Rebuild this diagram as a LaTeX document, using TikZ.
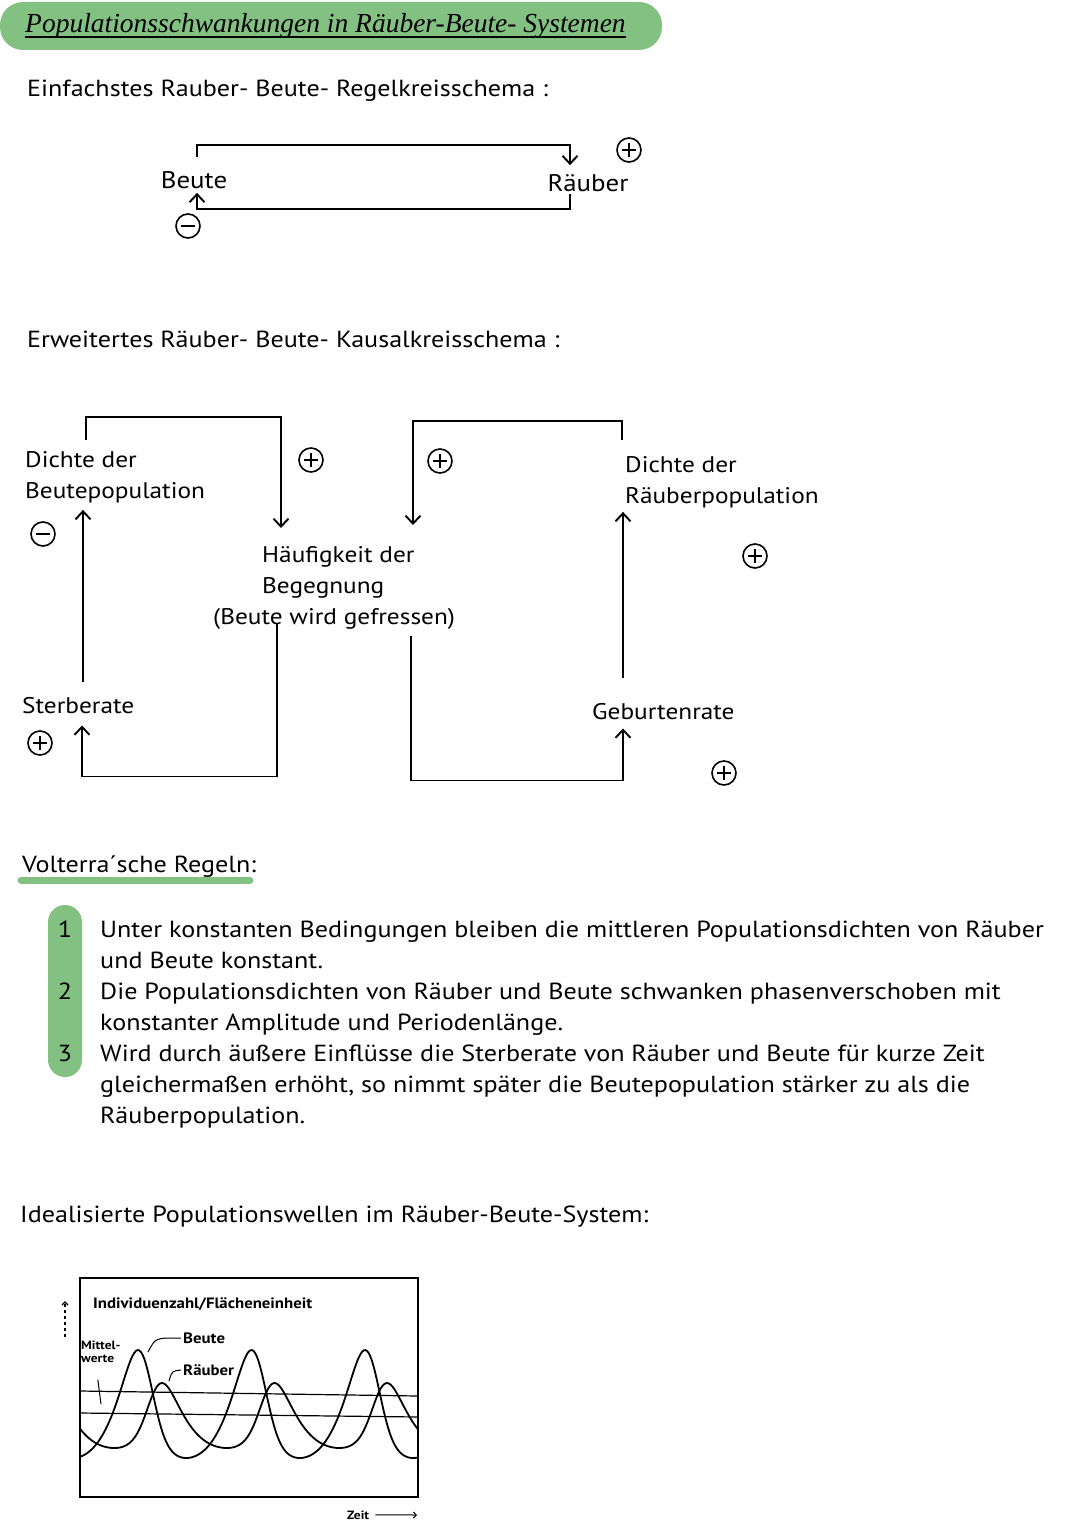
\documentclass[tikz,border=0pt]{standalone}
\usepackage{fontspec}
\setmainfont{PT Sans}[FakeStretch=1.12]
\newfontfamily\titlefont{Liberation Serif}
\usetikzlibrary{arrows.meta,calc}

\definecolor{markgreen}{RGB}{131,193,131}

\begin{document}
\begin{tikzpicture}[
  x=1pt, y=-1pt,
  font=\fontsize{22.6}{31}\selectfont,
  line/.style={draw=black, line width=1.7pt, -{Straight Barb[length=8pt,width=15pt,line width=1.9pt]}},
  lbl/.style={inner sep=0pt, align=left},
  head/.style={lbl, font=\fontsize{23.3}{28}\selectfont},
  rule/.style={lbl, font=\fontsize{23.3}{31}\selectfont},
  sign/.style={circle, draw, line width=1.6pt, minimum size=24pt, inner sep=0pt},
  plussign/.style={sign, path picture={
      \draw[line width=1.6pt] ([xshift=5pt]path picture bounding box.west) -- ([xshift=-5pt]path picture bounding box.east);
      \draw[line width=1.6pt] ([yshift=-5pt]path picture bounding box.north) -- ([yshift=5pt]path picture bounding box.south);}},
  minussign/.style={sign, path picture={
      \draw[line width=1.6pt] ([xshift=5pt]path picture bounding box.west) -- ([xshift=-5pt]path picture bounding box.east);}},
  small/.style={inner sep=0pt, font=\bfseries\fontsize{15}{16}\selectfont},
  wave/.style={line width=1.8pt},
  declare function={
    preyw(\t)=1458-108*(exp(1.2*cos(3.1718*(\t-138)+14.3*(1-cos(3.1718*(\t-138)))))-0.3012)/3.0189;
    predw(\t)=1448-65*(exp(1.2*cos(3.2*(\t-162)-14.3*(1-cos(3.2*(\t-162)))))-0.3012)/3.0189;}
]
\useasboundingbox (0,0) rectangle (1080,1522);

% title bar
\fill[markgreen, rounded corners=23pt] (0,2) rectangle (662,50);
\node[lbl, anchor=base west, font=\titlefont\itshape\fontsize{27.5}{30}\selectfont] (title) at (25,33) {Populationsschwankungen in Räuber-Beute- Systemen};
\draw[line width=1.4pt] ([yshift=-4pt]title.base west) -- ([yshift=-4pt]title.base east);

% simple loop
\node[head, anchor=base west] (simple) at (27,97) {Einfachstes Rauber- Beute- Regelkreisschema :};
\node[lbl, font=\fontsize{24}{28}\selectfont] (beute) at (194,180) {Beute};
\node[lbl, font=\fontsize{24}{28}\selectfont] (raeuber) at (588,183) {Räuber};
\draw[line] ([xshift=3pt,yshift=14pt]beute.north) -- ++(0,-12) -| ([xshift=-18pt,yshift=9pt]raeuber.north);
\draw[line] ([xshift=-18pt,yshift=-2pt]raeuber.south) -- ++(0,15) -| ([xshift=3pt,yshift=-4pt]beute.south);
\node[plussign] (plustop) at (629,150) {};
\node[minussign] (minustop) at (188,226) {};

% extended loop
\node[head, anchor=base west] (extended) at (27,347) {Erweitertes Räuber- Beute- Kausalkreisschema :};
\node[lbl, anchor=north west] (dbeute) at (25,451) {Dichte der\\Beutepopulation};
\node[lbl, anchor=base west] (sterbe) at (22,713) {Sterberate};
\node[lbl, anchor=north west] (haeufig) at (213,546) {\hspace*{49pt}Häufigkeit der\\\hspace*{49pt}Begegnung\\(Beute wird gefressen)};
\node[lbl, anchor=north west] (draeuber) at (625,456) {Dichte der\\Räuberpopulation};
\node[lbl, anchor=base west] (geburt) at (592,719) {Geburtenrate};

\draw[line] ([xshift=61pt,yshift=11pt]dbeute.north west) -- ++(0,-23) -| ([xshift=68pt,yshift=18pt]haeufig.north west);
\draw[line] ([xshift=64pt,yshift=5pt]haeufig.south west) -- ++(0,152) -| ([xshift=60pt,yshift=-12pt]sterbe.south west);
\draw[line] ([xshift=61pt,yshift=15pt]sterbe.north west) -- ([xshift=58pt,yshift=-7pt]dbeute.south west);
\draw[line] ([xshift=-3pt,yshift=16pt]draeuber.north west) -- ++(0,-19) -| ([xshift=200pt,yshift=21pt]haeufig.north west);
\draw[line] ([xshift=198pt,yshift=-7pt]haeufig.south west) -- ++(0,144) -| ([xshift=31pt,yshift=-9pt]geburt.south west);
\draw[line] ([xshift=31pt,yshift=25pt]geburt.north west) -- ([xshift=-2pt,yshift=-4pt]draeuber.south west);

\node[plussign] (plusmeet) at (311,460) {};
\node[minussign] (minusprey) at (43,534) {};
\node[plussign] (plusdeath) at (40,743) {};
\node[plussign] (plusfeed) at (440,461) {};
\node[plussign] (pluspred) at (755,556) {};
\node[plussign] (plusbirth) at (724,773) {};

% rules
\draw[markgreen, line width=7pt, line cap=round] (21,880) -- (250,880);
\node[head, anchor=base west] (volterra) at (22,872) {Volterra´sche Regeln:};
\fill[markgreen, rounded corners=17pt] (48,905) rectangle (82,1077);
\node[rule] (num1) at (65,929) {1};
\node[rule] (num2) at (65,991) {2};
\node[rule] (num3) at (65,1053) {3};
\node[rule, anchor=north west] (rule1) at (100,921) {Unter konstanten Bedingungen bleiben die mittleren Populationsdichten von Räuber\\und Beute konstant.};
\node[rule, anchor=north west] (rule2) at (100,983) {Die Populationsdichten von Räuber und Beute schwanken phasenverschoben mit\\konstanter Amplitude und Periodenlänge.};
\node[rule, anchor=north west] (rule3) at (100,1045) {Wird durch äußere Einflüsse die Sterberate von Räuber und Beute für kurze Zeit\\gleichermaßen erhöht, so nimmt später die Beutepopulation stärker zu als die\\Räuberpopulation.};

% population waves
\node[head, anchor=base west] (waves) at (20,1222) {Idealisierte Populationswellen im Räuber-Beute-System:};
\draw[line width=1.5pt] (80,1278) rectangle (418,1497);
\draw[line width=1.4pt, dashed, -{Straight Barb[length=3pt]}] (65,1337) -- (65,1301);
\node[small, anchor=base west] (axis) at (93,1308) {Individuenzahl/Flächeneinheit};
\draw[line width=1.2pt] (80,1391) -- (418,1396);
\draw[line width=1.2pt] (80,1413) -- (418,1417);
\draw[wave] plot[domain=80:418, samples=200, smooth] (\x,{preyw(\x)});
\draw[wave] plot[domain=80:418, samples=200, smooth] (\x,{predw(\x)});
\node[small, anchor=west] (lprey) at (183,1338) {Beute};
\node[small, anchor=west] (lpred) at (183,1370) {Räuber};
\node[small, anchor=north west, align=left, font=\bfseries\fontsize{12}{12.5}\selectfont] (lmean) at (81,1341) {Mittel-\\werte};
\coordinate (preytop) at (148,1352);
\coordinate (predtop) at (169,1381);
\coordinate (meanpin) at (101,1404);
\draw[line width=1pt] (preytop) .. controls (155,1339) .. (167,1338) -- ([xshift=-2pt]lprey.west);
\draw[line width=1pt] (predtop) .. controls (172,1371) .. ([xshift=-2pt]lpred.west);
\draw[line width=1pt] ([xshift=-3pt,yshift=-17pt]lmean.south) -- (meanpin);
\node[small, anchor=base west, font=\bfseries\fontsize{12}{13}\selectfont] (zeit) at (347,1519) {Zeit};
\draw[line width=1pt, -{Straight Barb[length=3pt]}] ([xshift=6pt]zeit.east) -- (417,1515);
\end{tikzpicture}
\end{document}
